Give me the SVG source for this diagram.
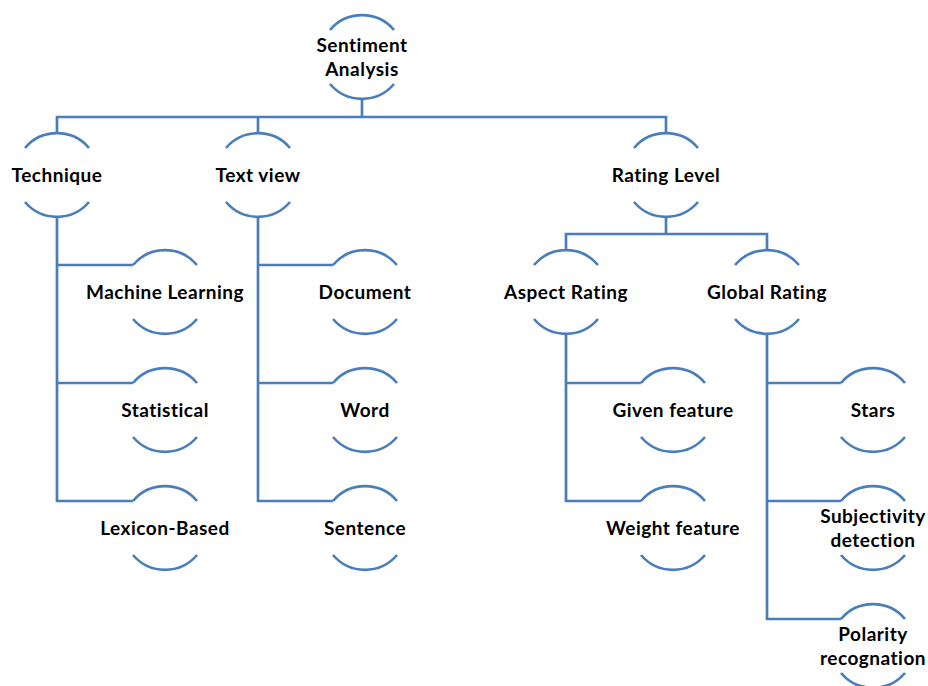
<svg xmlns="http://www.w3.org/2000/svg" width="928" height="686" viewBox="0 0 928 686">
<style>
.arc{fill:none;stroke:#4A7EBB;stroke-width:2.7}
.con{fill:none;stroke:#4A7EBB;stroke-width:2.7}
text{font-family:Lato,"Open Sans","Liberation Sans",sans-serif;font-weight:bold;font-size:19px;letter-spacing:0.5px;fill:#000;text-anchor:middle}
</style>
<defs>
<g id="node">
<path class="arc" d="M-32,-27 A42,42 0 0 1 32,-27"/>
<path class="arc" d="M-32,27 A42,42 0 0 0 32,27"/>
</g>
</defs>
<rect width="928" height="686" fill="#fff"/>
<g id="connectors">
<path class="con" d="M362,99 V117 M57,133 V117 H666 V133 M258,117 V133"/>
<path class="con" d="M57,217 V501 H133 M57,265 H133 M57,383 H133"/>
<path class="con" d="M258,217 V501 H333 M258,265 H333 M258,383 H333"/>
<path class="con" d="M666,217 V234 M566,250 V234 H767 V250"/>
<path class="con" d="M566,334 V501 H641 M566,383 H641"/>
<path class="con" d="M767,334 V619 H841 M767,383 H841 M767,501 H841"/>
</g>
<g id="sentiment"><use href="#node" x="362" y="57"/><text x="362" y="52">Sentiment</text><text x="362" y="76">Analysis</text></g>
<g id="technique"><use href="#node" x="57" y="175"/><text x="57" y="182">Technique</text></g>
<g id="textview"><use href="#node" x="258" y="175"/><text x="258" y="182">Text view</text></g>
<g id="ratinglevel"><use href="#node" x="666" y="175"/><text x="666" y="182">Rating Level</text></g>
<g id="ml"><use href="#node" x="165" y="292"/><text x="165" y="299">Machine Learning</text></g>
<g id="statistical"><use href="#node" x="165" y="410"/><text x="165" y="417">Statistical</text></g>
<g id="lexicon"><use href="#node" x="165" y="528"/><text x="165" y="535">Lexicon-Based</text></g>
<g id="document"><use href="#node" x="365" y="292"/><text x="365" y="299">Document</text></g>
<g id="word"><use href="#node" x="365" y="410"/><text x="365" y="417">Word</text></g>
<g id="sentence"><use href="#node" x="365" y="528"/><text x="365" y="535">Sentence</text></g>
<g id="aspect"><use href="#node" x="566" y="292"/><text x="566" y="299">Aspect Rating</text></g>
<g id="global"><use href="#node" x="767" y="292"/><text x="767" y="299">Global Rating</text></g>
<g id="given"><use href="#node" x="673" y="410"/><text x="673" y="417">Given feature</text></g>
<g id="weight"><use href="#node" x="673" y="528"/><text x="673" y="535">Weight feature</text></g>
<g id="stars"><use href="#node" x="873" y="410"/><text x="873" y="417">Stars</text></g>
<g id="subjectivity"><use href="#node" x="873" y="528"/><text x="873" y="523">Subjectivity</text><text x="873" y="547">detection</text></g>
<g id="polarity"><use href="#node" x="873" y="646"/><text x="873" y="641">Polarity</text><text x="873" y="665">recognation</text></g>
</svg>
